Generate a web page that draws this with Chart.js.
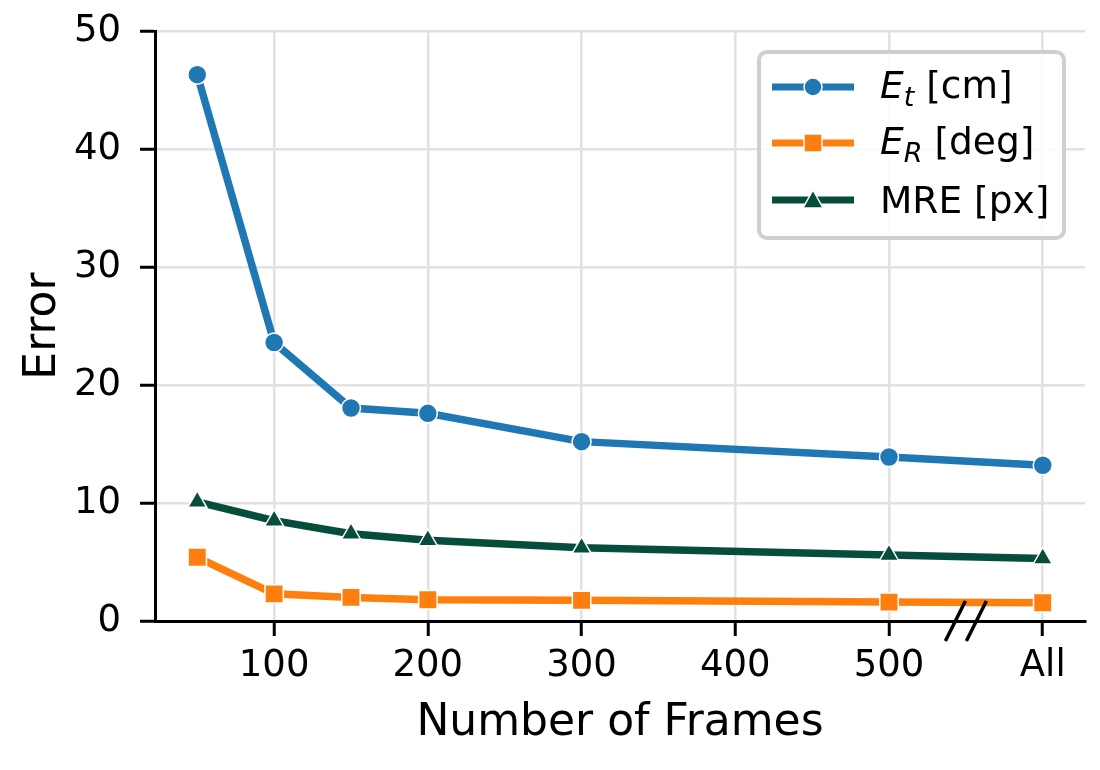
<!DOCTYPE html>
<html>
<head>
<meta charset="utf-8">
<script src="https://cdn.jsdelivr.net/npm/chart.js@4/dist/chart.umd.min.js"></script>
<style>
  html, body { margin: 0; padding: 0; background: #fff; }
  #wrap { position: relative; width: 1100px; height: 770px; }
  #legend {
    position: absolute; left: 757px; top: 50px; width: 301px; height: 182px;
    border: 4px solid #cfcfcf; border-radius: 10px; background: rgba(255,255,255,0.85);
    font-family: "DejaVu Sans", sans-serif; font-size: 37.5px; color: #000;
  }
  .row { position: absolute; left: 0; height: 50px; display: flex; align-items: center; }
  .row svg { margin-left: 11px; margin-right: 26px; }
  .row sub { font-size: 27px; vertical-align: -8px; }
</style>
</head>
<body>
<div id="wrap">
  <canvas id="errors_chart" width="1100" height="770"></canvas>
  <div id="legend"></div>
</div>
<script>
// frames used (600 stands for "All")
var frames = [50, 100, 150, 200, 300, 500, 600];
var err_t = [46.3, 23.6, 18.05, 17.6, 15.2, 13.9, 13.2];
var err_r = [5.4, 2.3, 2.0, 1.8, 1.75, 1.6, 1.55];
var mre = [10.1, 8.5, 7.4, 6.85, 6.2, 5.6, 5.3];

var seriesNames = ["E_t [cm]", "E_R [deg]", "MRE [px]"];
var seriesColors = ["#1f77b4", "#ff7f0e", "#064d3c"];
var seriesMarkers = ["circle", "rect", "triangle"];
var markerSizes = [9.5, 13, 11];

var xTicks = [100, 200, 300, 400, 500, 600];
var xTickLabels = ["100", "200", "300", "400", "500", "All"];
var yTicks = [0, 10, 20, 30, 40, 50];

var font = "'DejaVu Sans', sans-serif";

function points(ys) {
    return frames.map(function(x, i) { return {x: x, y: ys[i]}; });
}

var allSeries = [err_t, err_r, mre];
var datasets = allSeries.map(function(ys, i) {
    return {
        label: seriesNames[i],
        data: points(ys),
        borderColor: seriesColors[i],
        backgroundColor: seriesColors[i],
        borderWidth: 7.5,
        tension: 0,
        pointStyle: seriesMarkers[i],
        pointRadius: markerSizes[i],
        pointBorderColor: "#fff",
        pointBorderWidth: 1.5,
        pointBackgroundColor: seriesColors[i]
    };
});

// the little "//" break between 500 and All on the x axis
var axisBreak = {
    id: "axisBreak",
    afterDatasetsDraw: function(chart) {
        var ctx = chart.ctx;
        var xs = chart.scales.x;
        var y0 = chart.scales.y.getPixelForValue(0);
        var cx = xs.getPixelForValue(550);
        ctx.save();
        ctx.strokeStyle = "#000";
        ctx.lineWidth = 3.5;
        [-10.5, 10.5].forEach(function(dx) {
            ctx.beginPath();
            ctx.moveTo(cx + dx - 10, y0 + 20);
            ctx.lineTo(cx + dx + 10, y0 - 20);
            ctx.stroke();
        });
        ctx.restore();
    }
};

var ctx = document.getElementById("errors_chart");
var chart = new Chart(ctx, {
    type: "line",
    data: { datasets: datasets },
    plugins: [axisBreak],
    options: {
        responsive: false,
        animation: false,
        devicePixelRatio: 1,
        layout: { padding: { left: 0, right: 15, top: 31, bottom: 0 } },
        plugins: { legend: { display: false }, tooltip: { enabled: false } },
        scales: {
            x: {
                type: "linear",
                min: 22.5,
                max: 627.5,
                afterBuildTicks: function(axis) {
                    axis.ticks = xTicks.map(function(v) { return {value: v}; });
                },
                afterFit: function(axis) {
                    axis.height = 149;
                    axis.paddingLeft = 0;
                    axis.paddingRight = 0;
                },
                ticks: {
                    color: "#000",
                    font: { family: font, size: 37 },
                    padding: 8,
                    maxRotation: 0,
                    autoSkip: false,
                    callback: function(v) {
                        var i = xTicks.indexOf(v);
                        return i >= 0 ? xTickLabels[i] : "";
                    }
                },
                grid: {
                    color: "#e2e2e2", lineWidth: 2.5,
                    tickColor: "#000", tickWidth: 3, tickLength: 15
                },
                border: { display: true, color: "#000", width: 3 },
                title: {
                    display: true, text: "Number of Frames", color: "#000",
                    font: { family: font, size: 44 }, padding: { top: 4, bottom: 20 }
                }
            },
            y: {
                min: 0,
                max: 50,
                afterBuildTicks: function(axis) {
                    axis.ticks = yTicks.map(function(v) { return {value: v}; });
                },
                afterFit: function(axis) {
                    axis.width = 155;
                    axis.paddingTop = 0;
                    axis.paddingBottom = 0;
                },
                ticks: {
                    color: "#000",
                    font: { family: font, size: 37 },
                    padding: 19
                },
                grid: {
                    color: "#e2e2e2", lineWidth: 2.5,
                    tickColor: "#000", tickWidth: 3, tickLength: 15
                },
                border: { display: true, color: "#000", width: 3 },
                title: {
                    display: true, text: "Error", color: "#000",
                    font: { family: font, size: 44 }, padding: { top: 17, bottom: 0 }
                }
            }
        }
    }
});

// legend drawn as html so the subscripts stay real text
function labelHtml(s) {
    var m = s.match(/^(\w)_(\w)(.*)$/);
    if (!m) return s;
    return "<i>" + m[1] + "</i><sub><i>" + m[2] + "</i></sub>" + m[3];
}

function markerSvg(i) {
    var c = seriesColors[i];
    var mk = "";
    if (seriesMarkers[i] === "circle") mk = '<circle cx="41" cy="15" r="9" fill="' + c + '" stroke="#fff" stroke-width="1.5"/>';
    if (seriesMarkers[i] === "rect") mk = '<rect x="32" y="6" width="18" height="18" fill="' + c + '" stroke="#fff" stroke-width="1.5"/>';
    if (seriesMarkers[i] === "triangle") mk = '<polygon points="41,5 51,23 31,23" fill="' + c + '" stroke="#fff" stroke-width="1.5"/>';
    return '<svg width="82" height="30"><line x1="0" y1="15" x2="82" y2="15" stroke="' + c + '" stroke-width="7"/>' + mk + '</svg>';
}

var legend = document.getElementById("legend");
var rowTops = [8, 64, 121];
seriesNames.forEach(function(name, i) {
    var row = document.createElement("div");
    row.className = "row";
    row.style.top = rowTops[i] + "px";
    row.innerHTML = markerSvg(i) + "<span>" + labelHtml(name) + "</span>";
    legend.appendChild(row);
});
</script>
</body>
</html>
